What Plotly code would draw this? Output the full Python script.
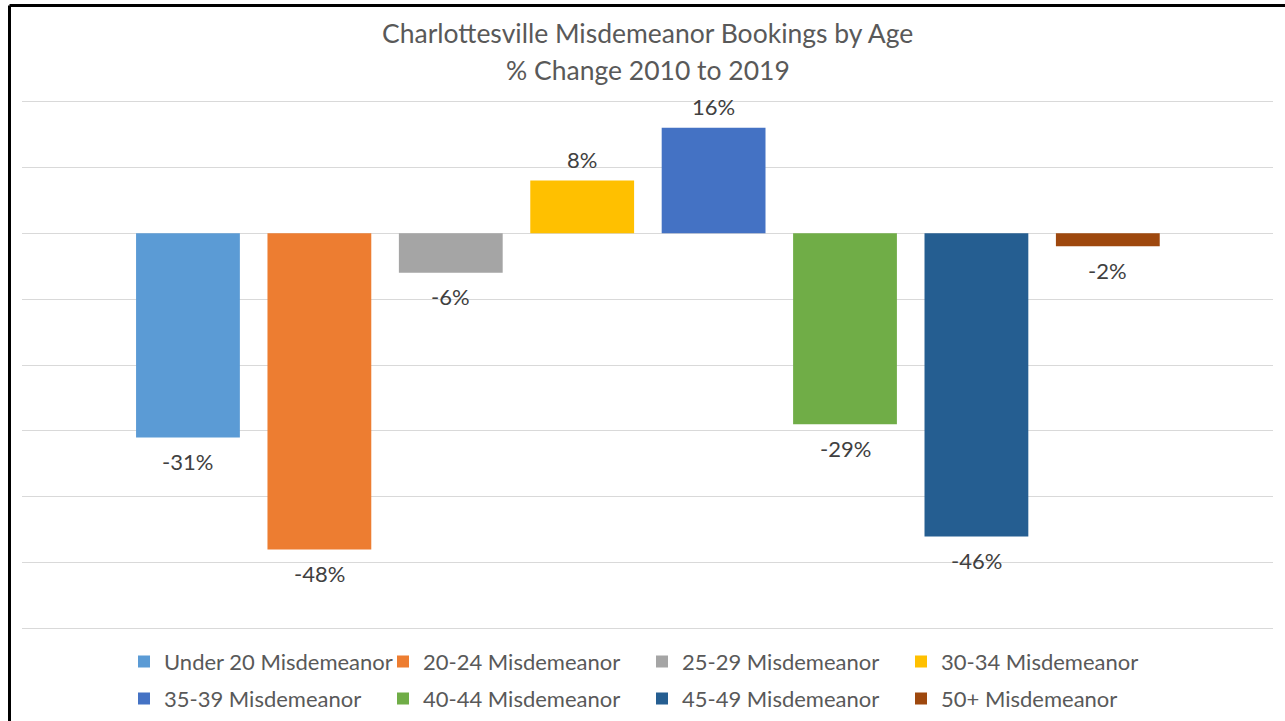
"""
Charlottesville misdemeanor bookings by age, % change 2010 to 2019
"""
import plotly.graph_objects as go

age_groups = [
    "Under 20 Misdemeanor",
    "20-24 Misdemeanor",
    "25-29 Misdemeanor",
    "30-34 Misdemeanor",
    "35-39 Misdemeanor",
    "40-44 Misdemeanor",
    "45-49 Misdemeanor",
    "50+ Misdemeanor",
]
pct_change = [-31, -48, -6, 8, 16, -29, -46, -2]
bar_colors = ["#5B9BD5", "#ED7D31", "#A5A5A5", "#FFC000",
              "#4472C4", "#70AD47", "#255E91", "#9E480E"]

W, H = 1285, 721
# plot area padded half a grid step so the 20% and -60% gridlines show
L, R, T, B = 22, 12, 97.7, 88.7
FONT = "Lato, 'Open Sans', sans-serif"

pw = W - L - R
ph = H - T - B
def px_x(p):
    return (p - L) / pw
def px_y(p):
    return (H - B - p) / ph

fig = go.Figure()
for i, (name, val, col) in enumerate(zip(age_groups, pct_change, bar_colors)):
    fig.add_trace(go.Bar(
        x=[i], y=[val], name=name, width=0.79,
        marker=dict(color=col, line_width=0),
        legend="legend" if i < 4 else "legend2",
        hoverinfo="name+y",
    ))
    # data label, Excel-style gap from the bar end
    fig.add_annotation(
        x=i, y=val, text=f"{val}%", showarrow=False,
        yshift=21 if val > 0 else -24,
        font=dict(family=FONT, size=22, color="#404040"),
    )

# two-line title, placed by hand to get Excel's line spacing
title_font = dict(family=FONT, size=26.5, color="#595959")
fig.add_annotation(text="Charlottesville Misdemeanor Bookings by Age",
                   xref="paper", yref="paper", x=0.5, y=px_y(33),
                   showarrow=False, yanchor="middle", font=title_font)
fig.add_annotation(text="% Change 2010 to 2019",
                   xref="paper", yref="paper", x=0.5, y=px_y(70),
                   showarrow=False, yanchor="middle", font=title_font)

legend_style = dict(
    orientation="h", entrywidth=214, entrywidthmode="pixels",
    xanchor="left", yanchor="middle", x=px_x(124),
    font=dict(family=FONT, size=22, color="#595959"),
    bgcolor="rgba(0,0,0,0)", itemclick=False, itemdoubleclick=False,
)

fig.update_layout(
    width=W, height=H,
    margin=dict(l=L, r=R, t=T, b=B, autoexpand=False),
    paper_bgcolor="white", plot_bgcolor="white",
    barmode="relative",
    xaxis=dict(range=[-1.263, 8.257], showticklabels=False, showgrid=False,
               zeroline=False, fixedrange=True),
    yaxis=dict(range=[-60.5, 20.5], dtick=10, tick0=0, showticklabels=False,
               gridcolor="#D9D9D9", gridwidth=1, zeroline=True,
               zerolinecolor="#D9D9D9", zerolinewidth=1, fixedrange=True),
    legend=dict(y=px_y(662), **legend_style),
    legend2=dict(y=px_y(699), **legend_style),
    showlegend=True,
    shapes=[
        # chart border (top and left edges visible in the crop)
        dict(type="line", xref="paper", yref="paper",
             x0=px_x(9.5), x1=px_x(1300), y0=px_y(5), y1=px_y(5),
             line=dict(color="black", width=3)),
        dict(type="line", xref="paper", yref="paper",
             x0=px_x(9.5), x1=px_x(9.5), y0=px_y(5), y1=px_y(740),
             line=dict(color="black", width=3)),
    ],
)

fig.write_html("out.html", config={"displayModeBar": False},
               post_script="document.body.style.margin='0';")
